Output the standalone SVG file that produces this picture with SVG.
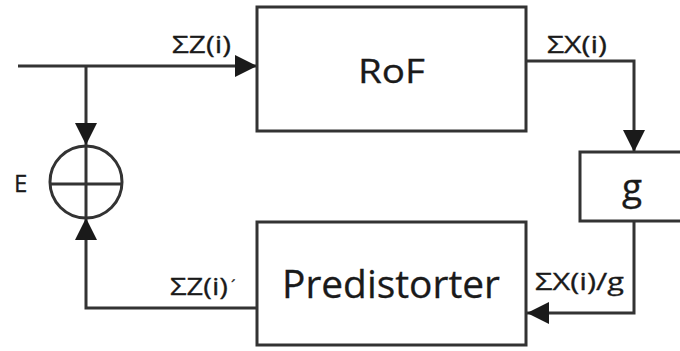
<svg xmlns="http://www.w3.org/2000/svg" width="680" height="351" viewBox="0 0 680 351">
<style>
.box{fill:#fff;stroke:#333;stroke-width:3}
.ln{fill:none;stroke:#333;stroke-width:3}
.t{font-family:"Open Sans","Liberation Sans",sans-serif;fill:#1a1a1a;stroke:#1a1a1a;stroke-width:0.3}
.lbl{font-size:23px}
</style>
<defs>
<marker id="ah" markerUnits="userSpaceOnUse" markerWidth="24" markerHeight="22" refX="22" refY="11" orient="auto">
<path d="M0,0 L22,11 L0,22 z" fill="#1a1a1a"/>
</marker>
</defs>
<rect width="680" height="351" fill="#fff"/>
<g id="connectors">
<path class="ln" d="M18,66 H257" marker-end="url(#ah)"/>
<path class="ln" d="M86,66 V145" marker-end="url(#ah)"/>
<path class="ln" d="M526,61 H634 V152" marker-end="url(#ah)"/>
<path class="ln" d="M634,221 V313 H527" marker-end="url(#ah)"/>
<path class="ln" d="M257,308 H86 V218" marker-end="url(#ah)"/>
<text class="t lbl" x="172" y="53" textLength="59" lengthAdjust="spacingAndGlyphs">ΣZ(i)</text>
<text class="t lbl" x="547" y="53" textLength="60" lengthAdjust="spacingAndGlyphs">ΣX(i)</text>
<text class="t lbl" x="535" y="290" textLength="89" lengthAdjust="spacingAndGlyphs">ΣX(i)/g</text>
<text class="t lbl" x="170" y="295" textLength="58" lengthAdjust="spacingAndGlyphs">ΣZ(i)</text>
<text class="t" x="231" y="292" font-size="16">´</text>
</g>
<g id="sum">
<circle class="ln" cx="86" cy="182" r="36"/>
<line class="ln" x1="50" y1="184" x2="122" y2="184"/>
<line class="ln" x1="86" y1="146" x2="86" y2="218"/>
<text class="t" x="14" y="192" font-size="24">E</text>
</g>
<g id="rof">
<rect class="box" x="257" y="7" width="269" height="124"/>
<text class="t" x="358" y="83" font-size="33" textLength="67" lengthAdjust="spacingAndGlyphs">RoF</text>
</g>
<g id="gain">
<rect class="box" x="580" y="152" width="104" height="69"/>
<text class="t" x="622" y="200" font-size="37">g</text>
</g>
<g id="predistorter">
<rect class="box" x="257" y="222" width="269" height="123"/>
<text class="t" x="282" y="298" font-size="39" textLength="218" lengthAdjust="spacingAndGlyphs">Predistorter</text>
</g>
</svg>
